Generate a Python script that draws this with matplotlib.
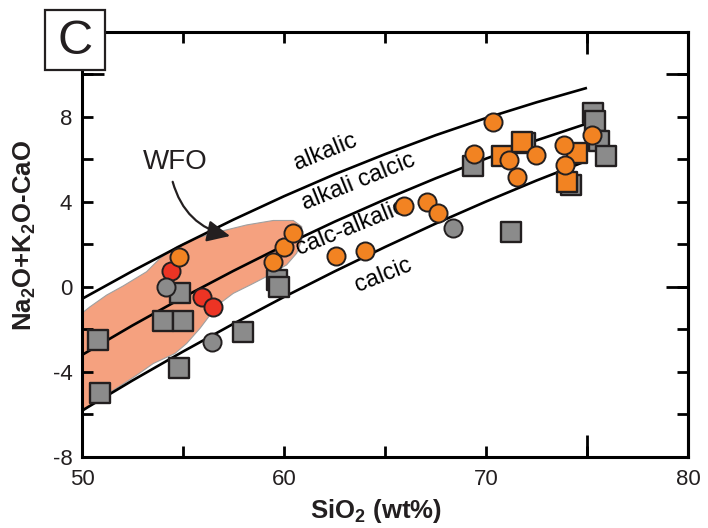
import matplotlib
matplotlib.use('Agg')
import matplotlib.pyplot as plt
import numpy as np
from matplotlib.patches import Polygon, Rectangle, FancyArrowPatch
from matplotlib.ticker import FixedLocator, FuncFormatter

plt.rcParams['font.family'] = 'Liberation Sans'
plt.rcParams['mathtext.fontset'] = 'custom'
plt.rcParams['mathtext.rm'] = 'Liberation Sans'
plt.rcParams['mathtext.default'] = 'regular'

INK = '#231F20'
GRAY = '#8B8B8B'
ORANGE = '#F28322'
RED = '#EC3424'
SHADE = '#F5A17F'

# MALI field boundaries (SiO2 vs Na2O+K2O-CaO)
bound_x = [50, 52.5, 55, 57.5, 60, 62.5, 65, 67.5, 70, 72.5, 75]
alkalic_y = [-0.56, 0.75, 2.00, 3.17, 4.27, 5.30, 6.25, 7.14, 7.95, 8.69, 9.37]
alkcalcic_y = [-3.20, -1.81, -0.49, 0.76, 1.95, 3.07, 4.12, 5.11, 6.04, 6.90, 7.69]
calcalk_y = [-5.82, -4.40, -3.04, -1.73, -0.47, 0.73, 1.88, 2.98, 4.02, 5.01, 5.94]

# WFO field outline
wfo_x = [49.5, 50.40, 51.22, 52.04, 53.20, 53.86, 54.69, 55.68, 56.83, 58.15,
         59.47, 60.46, 60.88, 60.88, 60.63, 60.13, 59.14, 58.32, 57.49, 56.83,
         56.34, 55.84, 55.18, 54.60, 53.53, 52.71, 51.55, 50.56, 49.90, 49.5]
wfo_y = [-1.60, -0.93, -0.38, 0.05, 0.72, 1.35, 1.90, 2.30, 2.61, 2.92,
         3.13, 3.13, 2.84, 2.22, 1.59, 1.04, 0.49, 0.09, -0.30, -0.77,
         -1.32, -1.95, -2.66, -3.13, -3.60, -4.15, -4.86, -5.49, -5.96, -6.20]

# samples
gsq_x = [50.81, 50.89, 54.85, 53.99, 54.98, 54.82, 57.95, 59.64, 59.77, 71.24,
         69.37, 75.28, 75.40, 75.61, 75.92, 74.21, 71.93]
gsq_y = [-2.50, -4.98, -0.30, -1.59, -1.59, -3.79, -2.14, 0.33, -0.02, 2.61,
         5.68, 8.19, 7.80, 6.85, 6.15, 4.78, 6.78]
gci_x = [54.16, 56.42, 68.35]
gci_y = [-0.02, -2.59, 2.77]
red_x = [54.42, 55.92, 56.47]
red_y = [0.75, -0.49, -0.93]
osq_x = [70.77, 71.77, 74.49, 74.00]
osq_y = [6.15, 6.82, 6.30, 4.93]
oci_x = [54.82, 59.44, 60.00, 60.43, 62.57, 64.01, 65.96, 67.06, 67.64, 70.36,
         69.42, 71.15, 72.48, 71.55, 73.88, 73.91, 75.25]
oci_y = [1.40, 1.19, 1.90, 2.53, 1.46, 1.71, 3.82, 3.98, 3.48, 7.75,
         6.27, 5.96, 6.19, 5.16, 6.67, 5.74, 7.17]

xticks = np.arange(50, 81, 5)
yticks = np.arange(-8, 11, 2)
xlabeled = [50, 60, 70, 80]
ylabeled = [-8, -4, 0, 4, 8]

fig = plt.figure(figsize=(7.08, 5.28), dpi=100)
ax = fig.add_axes([0.1158, 0.1345, 0.8559, 0.8049])

ax.add_patch(Polygon(np.column_stack([wfo_x, wfo_y]), closed=True,
                     facecolor=SHADE, edgecolor='#A0A0A0', lw=0.8, zorder=1))

for yy in (alkalic_y, alkcalcic_y, calcalk_y):
    ax.plot(bound_x, yy, color='black', lw=1.9, zorder=2,
            solid_capstyle='butt')

ax.scatter(gsq_x, gsq_y, s=200, marker='s', c=GRAY, edgecolors=INK,
           linewidths=1.7, zorder=3)
ax.scatter(red_x, red_y, s=170, marker='o', c=RED, edgecolors=INK,
           linewidths=1.4, zorder=4)
ax.scatter(gci_x, gci_y, s=170, marker='o', c=GRAY, edgecolors=INK,
           linewidths=1.4, zorder=5)
ax.scatter(osq_x, osq_y, s=200, marker='s', c=ORANGE, edgecolors=INK,
           linewidths=1.7, zorder=6)
ax.scatter(oci_x, oci_y, s=170, marker='o', c=ORANGE, edgecolors=INK,
           linewidths=1.4, zorder=7)

# field names, under the symbols
lab = dict(fontsize=17, color='black', ha='center', va='center',
           rotation=22, rotation_mode='anchor', zorder=2.5)
ax.text(62.05, 6.35, 'alkalic', **lab)
ax.text(63.7, 4.95, 'alkali calcic', **lab)
ax.text(63.3, 2.80, 'calc-alkalic', **lab)
ax.text(64.9, 0.55, 'calcic', **lab)

ax.text(54.6, 5.9, 'WFO', fontsize=20, color=INK, ha='center', va='center')
ax.add_patch(FancyArrowPatch((54.49, 4.95), (57.33, 2.40),
                             connectionstyle='arc3,rad=0.3',
                             arrowstyle='-|>,head_length=0.7,head_width=0.33',
                             mutation_scale=20, lw=1.6, color=INK,
                             shrinkA=0, shrinkB=0, zorder=8))

ax.set_xlim(50, 80)
ax.set_ylim(-8, 12)

ax.set_xticks(xticks)
ax.xaxis.set_major_formatter(FuncFormatter(
    lambda v, p: '%d' % v if int(round(v)) in xlabeled else ''))
ax.xaxis.set_minor_locator(FixedLocator([75]))
ax.xaxis.remove_overlapping_locs = False
ax.tick_params(axis='x', which='major', direction='in', length=8, width=2,
               top=True, labelsize=16, labelcolor=INK, pad=9)
ax.tick_params(axis='x', which='minor', direction='in', length=16, width=2,
               top=True)

ax.set_yticks(yticks)
ax.yaxis.set_major_formatter(FuncFormatter(
    lambda v, p: '%d' % v if int(round(v)) in ylabeled else ''))
ax.yaxis.set_minor_locator(FixedLocator([10]))
ax.yaxis.remove_overlapping_locs = False
ax.tick_params(axis='y', which='major', direction='in', length=8, width=2,
               labelsize=16, labelcolor=INK, pad=7)
ax.tick_params(axis='y', which='minor', direction='in', length=16, width=2)

sec = ax.secondary_yaxis('right')
sec.set_yticks(yticks)
sec.yaxis.set_minor_locator(FixedLocator([0, 10]))
sec.yaxis.remove_overlapping_locs = False
sec.tick_params(which='major', direction='in', length=8, width=2,
                labelright=False)
sec.tick_params(which='minor', direction='in', length=16, width=2)
sec.spines['right'].set_linewidth(2.2)

for sp in ax.spines.values():
    sp.set_linewidth(2.2)

ax.set_xlabel(r'SiO$_2$ (wt%)', fontsize=18.5, fontweight='bold', color=INK)
ax.xaxis.set_label_coords(0.485, -0.095)
ax.set_ylabel(r'Na$_2$O+K$_2$O-CaO', fontsize=18.5, fontweight='bold',
              color=INK)
ax.yaxis.set_label_coords(-0.072, 0.522)

# panel letter
fig.add_artist(Rectangle((45 / 708, 1 - 70 / 528), 60 / 708, 60 / 528,
                         transform=fig.transFigure, facecolor='white',
                         edgecolor=INK, lw=1.6, zorder=10))
fig.text(75 / 708, 1 - 41 / 528, 'C', fontsize=35, color=INK,
         ha='center', va='center', zorder=11)

fig.savefig('out.png', dpi=100)
